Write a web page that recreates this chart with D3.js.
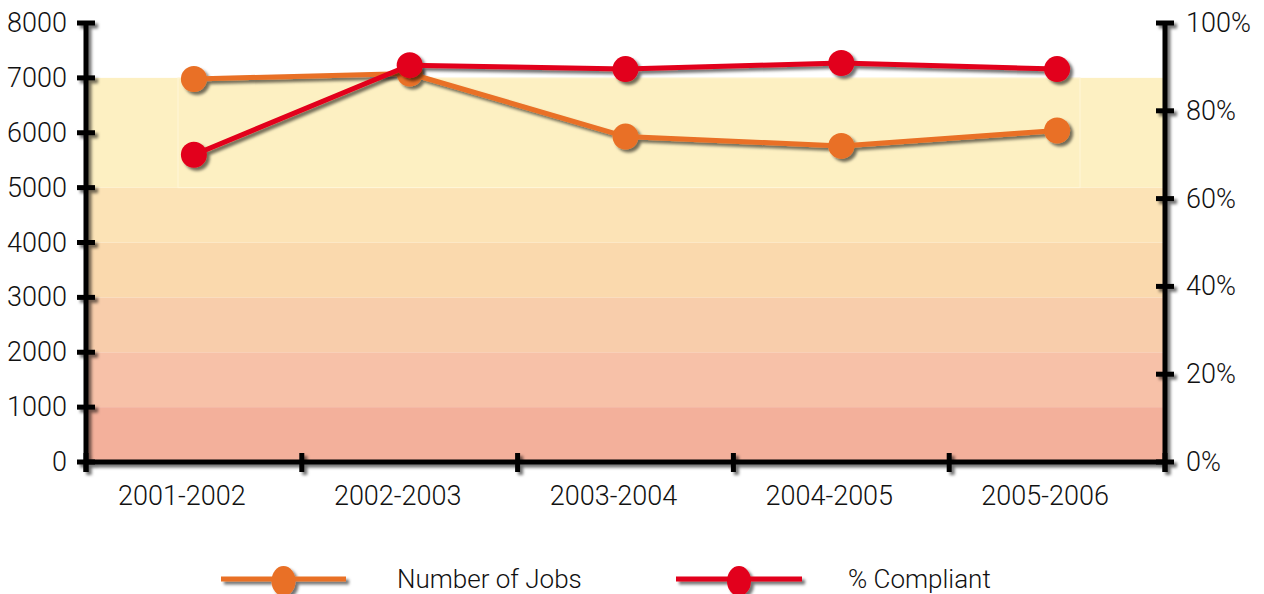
<!DOCTYPE html>
<html>
<head>
<meta charset="utf-8">
<script src="https://cdn.jsdelivr.net/npm/d3@7"></script>
<style>
  body { margin: 0; background: #fff; }
  text { font-family: Roboto, "Liberation Sans", sans-serif; font-weight: 300; fill: #111; }
</style>
</head>
<body>
<script>
const years = ["2001-2002", "2002-2003", "2003-2004", "2004-2005", "2005-2006"]
const jobs = [6980, 7080, 5930, 5760, 6040]
const compliant = [70, 90.4, 89.5, 90.9, 89.5]
const leftTicks = [0, 1000, 2000, 3000, 4000, 5000, 6000, 7000, 8000]
const rightTicks = [0, 20, 40, 60, 80, 100]
const bandEdges = [0, 1000, 2000, 3000, 4000, 5000, 7000]
const bandColors = ["#f3b09b", "#f7c1a8", "#f8cdab", "#fad9ad", "#fce3b6", "#fdf0c2"]

const width = 1264, height = 594
const plotL = 86, plotR = 1165, plotT = 23, plotB = 462

const svg = d3.select("body")
    .append("svg")
    .attr("width", width)
    .attr("height", height)

const defs = svg.append("defs")
const shadow = defs.append("filter").attr("id", "shadow")
    .attr("x", "-20%").attr("y", "-20%").attr("width", "140%").attr("height", "140%")
shadow.append("feDropShadow")
    .attr("dx", 3).attr("dy", 3).attr("stdDeviation", 1.6)
    .attr("flood-color", "#000").attr("flood-opacity", 0.55)

const x = d3.scaleBand().domain(years).range([plotL, plotR])
const y = d3.scaleLinear().domain([0, 8000]).range([plotB, plotT])
const y2 = d3.scaleLinear().domain([0, 100]).range([plotB, plotT])
const cx = d => x(d) + x.bandwidth() / 2

// background bands
svg.selectAll("rect.band")
    .data(bandColors)
    .enter()
    .append("rect")
    .attr("class", "band")
    .attr("x", plotL)
    .attr("width", plotR - plotL)
    .attr("y", (d, i) => y(bandEdges[i + 1]))
    .attr("height", (d, i) => y(bandEdges[i]) - y(bandEdges[i + 1]))
    .attr("fill", d => d)

// faint inner box in the top band
svg.append("rect")
    .attr("x", 178).attr("y", y(7000))
    .attr("width", 902).attr("height", y(5000) - y(7000))
    .attr("fill", "none").attr("stroke", "#fff6d8").attr("stroke-width", 1)

// axes
const axes = svg.append("g").attr("filter", "url(#shadow)")
const blk = "#000"

axes.append("line").attr("x1", plotL).attr("x2", plotL).attr("y1", plotT).attr("y2", plotB + 10)
    .attr("stroke", blk).attr("stroke-width", 5)
axes.append("line").attr("x1", plotR).attr("x2", plotR).attr("y1", plotT).attr("y2", plotB + 10)
    .attr("stroke", blk).attr("stroke-width", 5)
axes.append("line").attr("x1", plotL).attr("x2", plotR).attr("y1", plotB).attr("y2", plotB)
    .attr("stroke", blk).attr("stroke-width", 5)

axes.selectAll("line.lt")
    .data(leftTicks)
    .enter()
    .append("line")
    .attr("x1", plotL - 9).attr("x2", plotL + 9)
    .attr("y1", d => y(d)).attr("y2", d => y(d))
    .attr("stroke", blk).attr("stroke-width", 5)

axes.selectAll("line.rt")
    .data(rightTicks)
    .enter()
    .append("line")
    .attr("x1", plotR - 9).attr("x2", plotR + 9)
    .attr("y1", d => y2(d)).attr("y2", d => y2(d))
    .attr("stroke", blk).attr("stroke-width", 5)

const xEdges = years.map(d => x(d)).concat([plotR])
axes.selectAll("line.xt")
    .data(xEdges)
    .enter()
    .append("line")
    .attr("x1", d => d).attr("x2", d => d)
    .attr("y1", plotB - 9).attr("y2", plotB + 10)
    .attr("stroke", blk).attr("stroke-width", 5)

// tick labels
svg.selectAll("text.lt")
    .data(leftTicks)
    .enter()
    .append("text")
    .attr("x", 67)
    .attr("y", d => y(d) + 9)
    .attr("text-anchor", "end")
    .style("font-size", "27px")
    .text(d => d)

svg.selectAll("text.rt")
    .data(rightTicks)
    .enter()
    .append("text")
    .attr("x", 1186)
    .attr("y", d => y2(d) + 9)
    .style("font-size", "27px")
    .text(d => d + "%")

// category labels sit slightly left of the band centres
svg.selectAll("text.xt")
    .data(years)
    .enter()
    .append("text")
    .attr("x", d => cx(d) - 12)
    .attr("y", 505)
    .attr("text-anchor", "middle")
    .style("font-size", "27px")
    .text(d => d)

// series
const orange = "#e97025", red = "#e2001a"

const lineJobs = d3.line().x((d, i) => cx(years[i])).y(d => y(d))
const lineComp = d3.line().x((d, i) => cx(years[i])).y(d => y2(d))

const gJobs = svg.append("g").attr("filter", "url(#shadow)")
gJobs.append("path")
    .attr("d", lineJobs(jobs))
    .attr("fill", "none")
    .attr("stroke", orange)
    .attr("stroke-width", 5)
gJobs.selectAll("circle")
    .data(jobs)
    .enter()
    .append("circle")
    .attr("cx", (d, i) => cx(years[i]))
    .attr("cy", d => y(d))
    .attr("r", 13)
    .attr("fill", orange)

const gComp = svg.append("g").attr("filter", "url(#shadow)")
gComp.append("path")
    .attr("d", lineComp(compliant))
    .attr("fill", "none")
    .attr("stroke", red)
    .attr("stroke-width", 5)
gComp.selectAll("circle")
    .data(compliant)
    .enter()
    .append("circle")
    .attr("cx", (d, i) => cx(years[i]))
    .attr("cy", d => y2(d))
    .attr("r", 13)
    .attr("fill", red)

// legend
const legend = [
    { name: "Number of Jobs", color: orange, x0: 221, x1: 346, tx: 397 },
    { name: "% Compliant", color: red, x0: 676, x1: 802, tx: 848 }
]
const lg = svg.selectAll("g.legend")
    .data(legend)
    .enter()
    .append("g")
    .attr("class", "legend")

lg.append("g").attr("filter", "url(#shadow)")
    .each(function (d) {
        const g = d3.select(this)
        g.append("line")
            .attr("x1", d.x0).attr("x2", d.x1)
            .attr("y1", 579).attr("y2", 579)
            .attr("stroke", d.color).attr("stroke-width", 5)
        g.append("ellipse")
            .attr("cx", (d.x0 + d.x1) / 2).attr("cy", 581)
            .attr("rx", 12).attr("ry", 15)
            .attr("fill", d.color)
    })

lg.append("text")
    .attr("x", d => d.tx)
    .attr("y", 588)
    .style("font-size", "26px")
    .text(d => d.name)
</script>
</body>
</html>
